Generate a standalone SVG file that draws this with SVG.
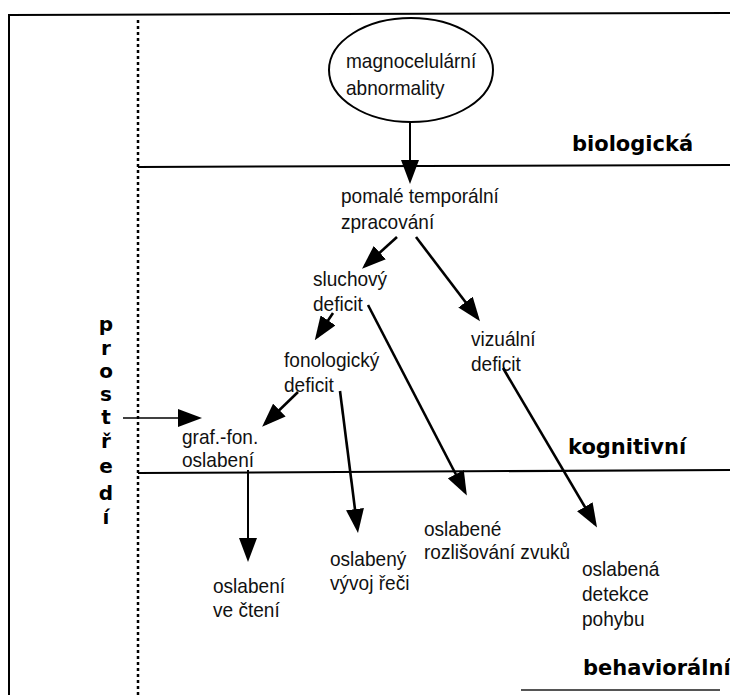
<svg xmlns="http://www.w3.org/2000/svg" width="730" height="695" viewBox="0 0 730 695">
<style>
.t{font-family:"Liberation Sans",Arial,sans-serif;font-size:20.5px;fill:#111}
.h{font-family:"DejaVu Sans",sans-serif;font-weight:bold;font-size:21px;fill:#000}
.v{font-family:"DejaVu Sans",sans-serif;font-weight:bold;font-size:20px;fill:#000;text-anchor:middle}
.frame{stroke:#000;stroke-width:2;fill:none}
.arr{stroke:#000;stroke-width:2.6;fill:none;marker-end:url(#ah)}
.thin{stroke:#000;stroke-width:1.6;fill:none;marker-end:url(#ah)}
</style>
<defs>
<marker id="ah" markerUnits="userSpaceOnUse" markerWidth="24" markerHeight="18" refX="20" refY="9" orient="auto" viewBox="0 0 24 18">
<path d="M0,0 L24,9 L0,18 Z" fill="#000"/>
</marker>
</defs>
<rect width="730" height="695" fill="#fff"/>
<g id="frame">
<line class="frame" x1="9" y1="15" x2="730" y2="13"/>
<line class="frame" x1="9" y1="14" x2="9" y2="695"/>
<line x1="138" y1="20" x2="138" y2="695" stroke="#000" stroke-width="2.5" stroke-dasharray="3 3"/>
<line class="frame" x1="138" y1="167" x2="730" y2="165"/>
<line class="frame" x1="138" y1="473" x2="730" y2="470"/>
<line x1="521" y1="690" x2="720" y2="690" stroke="#555" stroke-width="2"/>
</g>
<g id="levels">
<text class="h" x="572" y="151">biologická</text>
<text class="h" x="568" y="454">kognitivní</text>
<text class="h" x="583" y="675">behaviorální</text>
</g>
<g id="prostredi">
<text class="v" x="106" y="331">p</text>
<text class="v" x="106" y="355">r</text>
<text class="v" x="106" y="378">o</text>
<text class="v" x="106" y="401">s</text>
<text class="v" x="106" y="424">t</text>
<text class="v" x="106" y="448">ř</text>
<text class="v" x="106" y="473">e</text>
<text class="v" x="106" y="500">d</text>
<text class="v" x="106" y="524">í</text>
</g>
<g id="n-magno">
<ellipse cx="411" cy="70" rx="82" ry="52" fill="none" stroke="#000" stroke-width="2"/>
<text class="t" transform="translate(346,68) scale(0.93,1)">magnocelulární<tspan x="0" dy="27">abnormality</tspan></text>
</g>
<g id="n-pomale">
<text class="t" transform="translate(341,203) scale(0.93,1)">pomalé temporální<tspan x="0" dy="26">zpracování</tspan></text>
</g>
<g id="n-sluchovy">
<text class="t" transform="translate(313,286) scale(0.93,1)">sluchový<tspan x="0" dy="25">deficit</tspan></text>
</g>
<g id="n-vizualni">
<text class="t" transform="translate(471,346) scale(0.93,1)">vizuální<tspan x="0" dy="25">deficit</tspan></text>
</g>
<g id="n-fonologicky">
<text class="t" transform="translate(284,367) scale(0.93,1)">fonologický<tspan x="0" dy="25">deficit</tspan></text>
</g>
<g id="n-graffon">
<text class="t" transform="translate(182,444) scale(0.93,1)">graf.-fon.<tspan x="0" dy="23">oslabení</tspan></text>
</g>
<g id="n-rozlisovani">
<text class="t" transform="translate(424,536) scale(0.93,1)">oslabené<tspan x="0" dy="23">rozlišování zvuků</tspan></text>
</g>
<g id="n-vyvoj">
<text class="t" transform="translate(330,566) scale(0.93,1)">oslabený<tspan x="0" dy="24">vývoj řeči</tspan></text>
</g>
<g id="n-cteni">
<text class="t" transform="translate(213,593) scale(0.93,1)">oslabení<tspan x="0" dy="24">ve čtení</tspan></text>
</g>
<g id="n-detekce">
<text class="t" transform="translate(582,576) scale(0.93,1)">oslabená<tspan x="0" dy="25">detekce</tspan><tspan x="0" dy="25">pohybu</tspan></text>
</g>
<g id="connectors">
<line class="arr" x1="410" y1="122" x2="410" y2="180" style="stroke-width:2"/>
<line class="arr" x1="397" y1="237" x2="365" y2="266"/>
<line class="arr" x1="416" y1="237" x2="477.6" y2="318"/>
<line class="arr" x1="333" y1="313" x2="317" y2="337"/>
<line class="arr" x1="298" y1="392" x2="265" y2="424"/>
<line class="arr" x1="368" y1="305" x2="465" y2="492"/>
<line class="arr" x1="503" y1="368" x2="595" y2="524"/>
<line class="arr" x1="340" y1="391" x2="357.5" y2="529"/>
<line class="arr" x1="248" y1="470" x2="248" y2="558" style="stroke-width:2"/>
<line class="thin" x1="123" y1="418" x2="198" y2="418"/>
</g>
</svg>
